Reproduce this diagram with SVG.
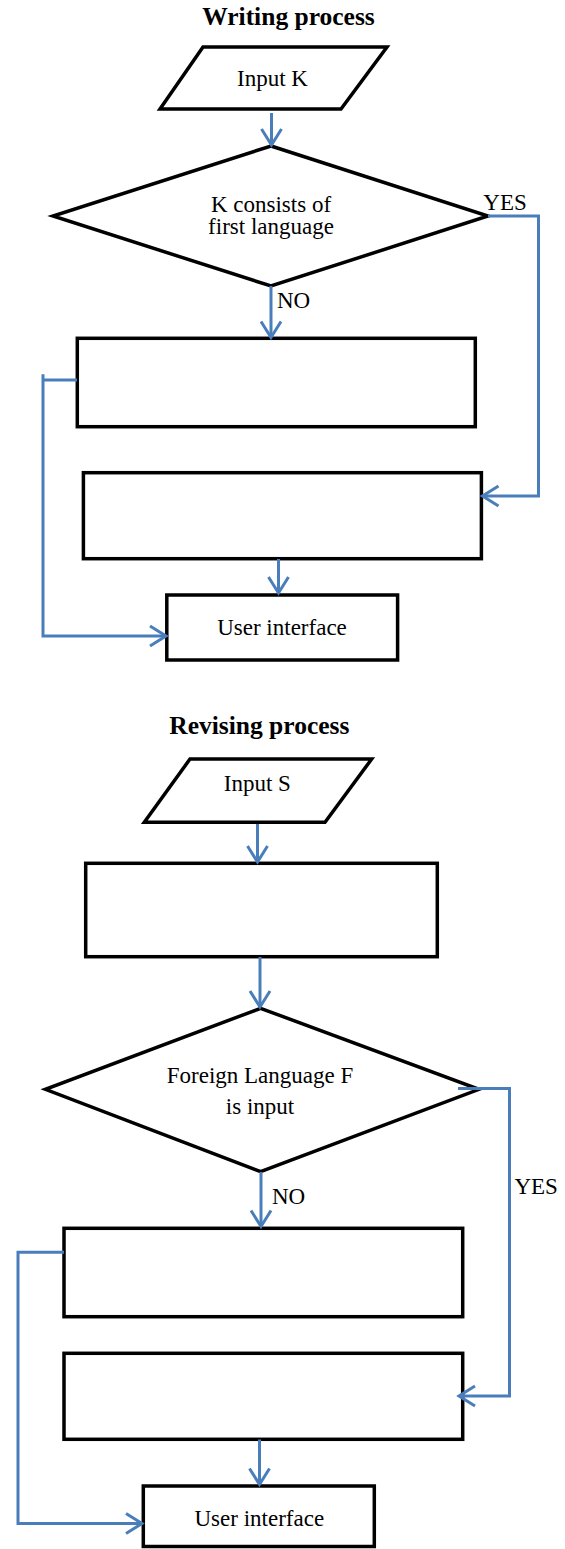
<svg xmlns="http://www.w3.org/2000/svg" width="565" height="1549" viewBox="0 0 565 1549">
  <style>
    .shape { fill: #ffffff; stroke: #000000; stroke-width: 3.5; stroke-linejoin: miter; }
    .title { font-family: "Liberation Serif", "Times New Roman", serif; font-size: 25.5px; font-weight: bold; fill: #000000; text-anchor: middle; }
    .label { font-family: "Liberation Serif", "Times New Roman", serif; font-size: 23px; fill: #000000; text-anchor: middle; }
    .tag { font-family: "Liberation Serif", "Times New Roman", serif; font-size: 23px; fill: #000000; }
    .flow { fill: none; stroke: #4A7EBB; stroke-width: 3; marker-end: url(#arrow); }
  </style>
  <defs>
    <marker id="arrow" markerUnits="userSpaceOnUse" markerWidth="40" markerHeight="40" refX="0" refY="0" viewBox="-20 -20 40 40" orient="auto" overflow="visible">
      <path d="M-16,-10 L0,0 L-16,10" fill="none" stroke="#4A7EBB" stroke-width="3"/>
    </marker>
  </defs>

  <!-- Writing process -->
  <text class="title" x="288.5" y="25">Writing process</text>

  <g id="input-k">
    <polygon class="shape" points="203,47 387,47 341,109 160,109"/>
    <text class="label" x="272.5" y="86">Input K</text>
  </g>
  <g id="check-first-language">
    <polygon class="shape" points="271,146 488,216 271,286 53,216"/>
    <text class="label" x="271" y="211.7">K consists of</text>
    <text class="label" x="271" y="234.3">first language</text>
  </g>
  <g id="writing-step-no">
    <rect class="shape" x="77.3" y="338.3" width="398" height="88.4"/>
  </g>
  <g id="writing-step-yes">
    <rect class="shape" x="83.4" y="472.7" width="398" height="86"/>
  </g>
  <g id="writing-ui">
    <rect class="shape" x="166.8" y="595" width="230.8" height="65"/>
    <text class="label" x="282" y="635">User interface</text>
  </g>

  <!-- Revising process -->
  <text class="title" x="259.3" y="733.5">Revising process</text>

  <g id="input-s">
    <polygon class="shape" points="190,759 371.7,759 325,822.3 144.3,822.3"/>
    <text class="label" x="257.3" y="790.7">Input S</text>
  </g>
  <g id="revising-step-1">
    <rect class="shape" x="85.7" y="863.3" width="351.6" height="93.4"/>
  </g>
  <g id="check-foreign-language">
    <polygon class="shape" points="260.6,1008.3 479,1089.3 260.6,1171.7 45.4,1089.3"/>
    <text class="label" x="260" y="1083.3">Foreign Language F</text>
    <text class="label" x="260" y="1114.3">is input</text>
  </g>
  <g id="revising-step-no">
    <rect class="shape" x="64" y="1228.3" width="398.7" height="88.4"/>
  </g>
  <g id="revising-step-yes">
    <rect class="shape" x="64" y="1353.3" width="398.7" height="86"/>
  </g>
  <g id="revising-ui">
    <rect class="shape" x="143.3" y="1486" width="231" height="60.5"/>
    <text class="label" x="259.3" y="1526">User interface</text>
  </g>

  <!-- connectors -->
  <g id="connectors">
    <path class="flow" d="M271.5,113 V145"/>
    <path class="flow" d="M488,216 H538.5 V496 H482.5"/>
    <path class="flow" d="M271,286 V337.5"/>
    <path class="flow" d="M77,380 H43 M43,374.3 V636 H166"/>
    <path class="flow" d="M278.5,559 V593"/>

    <path class="flow" d="M257.5,824 V862"/>
    <path class="flow" d="M260,957 V1007"/>
    <path class="flow" d="M458,1088.5 H509.5 V1396 H459"/>
    <path class="flow" d="M261,1172 V1226.5"/>
    <path class="flow" d="M64,1252.3 H18 V1523.5 H142"/>
    <path class="flow" d="M259.5,1439.5 V1484.5"/>

    <text class="tag" x="483.3" y="210">YES</text>
    <text class="tag" x="277" y="308.3">NO</text>
    <text class="tag" x="514.4" y="1194">YES</text>
    <text class="tag" x="272" y="1204">NO</text>
  </g>
</svg>
